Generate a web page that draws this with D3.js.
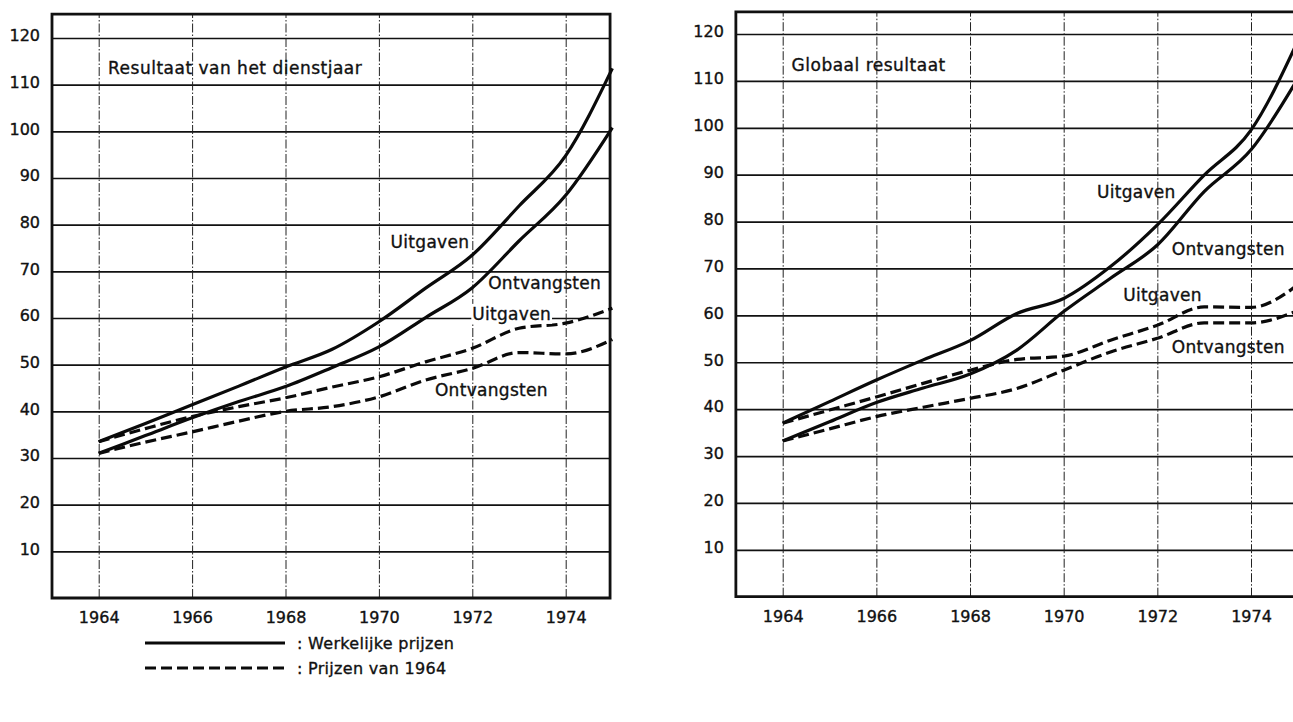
<!DOCTYPE html>
<html>
<head>
<meta charset="utf-8">
<script src="https://cdn.jsdelivr.net/npm/d3@7/dist/d3.min.js"></script>
<style>
  html, body { margin: 0; padding: 0; background: #fff; }
  svg { display: block; font-family: "DejaVu Sans", sans-serif; }
  svg text { font-family: "DejaVu Sans", sans-serif; stroke: #111; stroke-width: 0.35px; }
</style>
</head>
<body>
<svg id="chart" width="1293" height="722"></svg>
<script>
// ---------- DATA ----------
const years = [1964, 1965, 1966, 1967, 1968, 1969, 1970, 1971, 1972, 1973, 1974, 1975];
const yTicks = [10, 20, 30, 40, 50, 60, 70, 80, 90, 100, 110, 120];
const xTicks = [1964, 1966, 1968, 1970, 1972, 1974];

// Left panel: Resultaat van het dienstjaar
const leftUitgavenWerkelijk = [33.5, 37.4, 41.4, 45.4, 49.5, 53.3, 59.2, 66.4, 73.5, 84.0, 94.8, 113.5];
const leftOntvangstenWerkelijk = [31.0, 34.8, 38.6, 42.1, 45.3, 49.4, 53.8, 60.1, 66.5, 76.5, 86.3, 100.8];
const leftUitgaven1964 = [33.5, 36.3, 38.9, 41.0, 42.9, 45.2, 47.4, 50.6, 53.5, 57.8, 58.9, 62.1];
const leftOntvangsten1964 = [31.0, 33.4, 35.6, 37.9, 40.0, 41.0, 43.1, 46.7, 49.2, 52.6, 52.3, 55.4];

// Right panel: Globaal resultaat
const rightUitgavenWerkelijk = [37.0, 41.6, 46.2, 50.5, 54.6, 60.4, 63.6, 70.4, 79.3, 89.9, 99.5, 118.5];
const rightOntvangstenWerkelijk = [33.2, 37.3, 41.4, 44.5, 47.5, 52.6, 60.8, 67.9, 75.0, 86.4, 95.3, 110.5];
const rightUitgaven1964 = [37.0, 39.8, 42.6, 45.5, 48.3, 50.6, 51.3, 54.7, 57.9, 61.8, 61.7, 66.5];
const rightOntvangsten1964 = [33.2, 35.8, 38.4, 40.4, 42.3, 44.4, 48.3, 52.2, 55.1, 58.4, 58.4, 61.0];

const leftTitle = "Resultaat van het dienstjaar";
const rightTitle = "Globaal resultaat";
const labelUitgaven = "Uitgaven";
const labelOntvangsten = "Ontvangsten";
const legendLabels = [": Werkelijke prijzen", ": Prijzen van 1964"];

// label anchors in data coordinates (year, value)
const leftLabels = [
  { text: leftTitle, year: 1964.2, value: 112.3, title: true },
  { text: labelUitgaven, year: 1970.25, value: 75.0 },
  { text: labelOntvangsten, year: 1972.34, value: 66.2 },
  { text: labelUitgaven, year: 1972.0, value: 59.6, bg: true },
  { text: labelOntvangsten, year: 1971.2, value: 43.3 }
];
const rightLabels = [
  { text: rightTitle, year: 1964.19, value: 112.1, title: true },
  { text: labelUitgaven, year: 1970.71, value: 85.0 },
  { text: labelOntvangsten, year: 1972.31, value: 72.8 },
  { text: labelUitgaven, year: 1971.27, value: 63.0 },
  { text: labelOntvangsten, year: 1972.31, value: 52.0 }
];

// ---------- DRAW ----------
const FONT = '"DejaVu Sans", sans-serif';
const svg = d3.select("#chart");
svg.append("rect").attr("width", 1293).attr("height", 722).attr("fill", "#fff");

function panel(cfg) {
  const x = d3.scaleLinear().domain([1964, 1974]).range(cfg.xRange);
  const y = d3.scaleLinear().domain([0, 120]).range(cfg.yRange);
  const left = x(1963), right = x(cfg.xEnd), bottom = y(0), top = y(cfg.yTop);
  const g = svg.append("g");

  // horizontal gridlines + y labels (axis)
  const ya = g.append("g").attr("transform", `translate(${left},0)`)
    .call(d3.axisLeft(y).tickValues(yTicks).tickSize(-(right - left)).tickPadding(12).tickFormat(d3.format("d")))
    .attr("font-family", FONT).attr("font-size", 16);
  ya.select(".domain").remove();
  ya.selectAll("line").attr("stroke", "#111").attr("stroke-width", 1.7);
  ya.selectAll("text").attr("fill", "#111").attr("dy", "0.3em")
    .attr("transform", "translate(0,-2)");

  // vertical gridlines + x labels (axis)
  const xa = g.append("g").attr("transform", `translate(0,${bottom})`)
    .call(d3.axisBottom(x).tickValues(xTicks).tickSize(-(bottom - top)).tickPadding(14).tickFormat(d3.format("d")))
    .attr("font-family", FONT).attr("font-size", 16);
  xa.select(".domain").remove();
  xa.selectAll("line").attr("stroke", "#222").attr("stroke-width", 1).attr("stroke-dasharray", "9,2,1.5,2");
  xa.selectAll("text").attr("fill", "#111").attr("dy", "0.71em");

  // frame
  g.append("path")
    .attr("d", `M${left},${top}H${right}V${bottom}H${left}Z`)
    .attr("fill", "none").attr("stroke", "#111").attr("stroke-width", 2.8);

  const line = d3.line().x((d, i) => x(years[i])).y(d => y(d)).curve(d3.curveMonotoneX);
  cfg.series.forEach(s => {
    g.append("path").datum(s.values).attr("d", line)
      .attr("fill", "none").attr("stroke", "#0a0a0a").attr("stroke-width", 3.2)
      .attr("stroke-linejoin", "round")
      .attr("stroke-dasharray", s.dashed ? "11,5" : null);
  });

  cfg.labels.forEach(l => {
    const t = g.append("text")
      .attr("x", x(l.year)).attr("y", y(l.value))
      .attr("font-family", FONT)
      .attr("font-size", 17).attr("letter-spacing", l.title ? 0.5 : 0.3)
      .attr("fill", "#111").text(l.text);
    if (l.bg) {
      const b = t.node().getBBox();
      g.insert("rect", function () { return t.node(); })
        .attr("x", b.x - 1).attr("y", b.y).attr("width", b.width + 2).attr("height", b.height)
        .attr("fill", "#fff").attr("stroke", "none");
    }
  });
}

panel({
  xRange: [98.7, 565.7], yRange: [598, 38], xEnd: 1974.95, yTop: 125.1,
  series: [
    { values: leftUitgavenWerkelijk }, { values: leftOntvangstenWerkelijk },
    { values: leftUitgaven1964, dashed: true }, { values: leftOntvangsten1964, dashed: true }
  ],
  labels: leftLabels
});
panel({
  xRange: [782.7, 1251], yRange: [596.7, 34], xEnd: 1975.2, yTop: 124.7,
  series: [
    { values: rightUitgavenWerkelijk }, { values: rightOntvangstenWerkelijk },
    { values: rightUitgaven1964, dashed: true }, { values: rightOntvangsten1964, dashed: true }
  ],
  labels: rightLabels
});

// legend
const legend = svg.append("g");
[false, true].forEach((dashed, i) => {
  const yy = 643 + i * 25;
  legend.append("line").attr("x1", 145).attr("x2", 285).attr("y1", yy).attr("y2", yy)
    .attr("stroke", "#0a0a0a").attr("stroke-width", 3.2)
    .attr("stroke-dasharray", dashed ? "11,5" : null);
  legend.append("text").attr("x", 297).attr("y", yy).attr("dy", "0.35em")
    .attr("font-family", FONT)
    .attr("font-size", 16).attr("fill", "#111").attr("letter-spacing", 0.3)
    .text(legendLabels[i]);
});
</script>
</body>
</html>
